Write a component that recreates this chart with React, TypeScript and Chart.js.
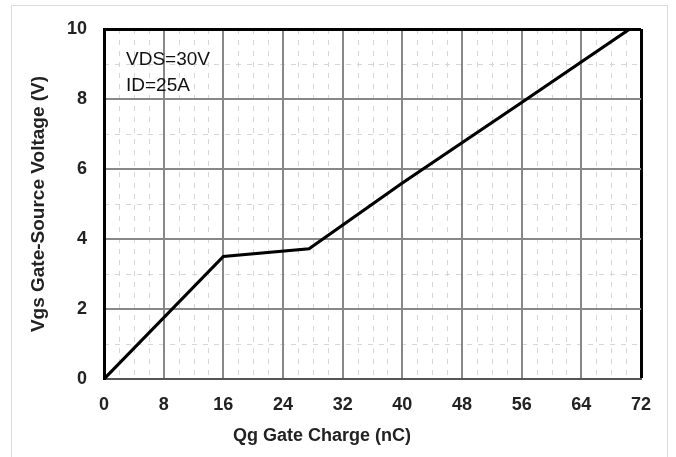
import React, { useEffect, useRef } from "react";
import { Chart, registerables } from "chart.js";

Chart.register(...registerables);

const chargeNC = [0, 16, 27.5, 40, 56, 70.5];
const gateVolts = [0, 3.5, 3.72, 5.6, 7.9, 10];
const xTickValues = [0, 8, 16, 24, 32, 40, 48, 56, 64, 72];
const yTickValues = [0, 2, 4, 6, 8, 10];
const xMinorValues = [2, 4, 6, 10, 12, 14, 18, 20, 22, 26, 28, 30, 34, 36, 38, 42, 44, 46, 50, 52, 54, 58, 60, 62, 66, 68, 70];
const yMinorValues = [1, 3, 5, 7, 9];
const annotations = ["VDS=30V", "ID=25A"];
const xTitle = "Qg Gate Charge (nC)";
const yTitle = "Vgs Gate-Source Voltage (V)";

const FONT = "'Liberation Sans', Arial, sans-serif";

export default function App() {
  const ref = useRef<HTMLCanvasElement | null>(null);

  useEffect(() => {
    document.body.style.margin = "0";
    const canvas = ref.current;
    if (!canvas) return;

    const decor = {
      id: "decor",
      beforeDraw(chart: any) {
        const { ctx } = chart;
        ctx.save();
        ctx.strokeStyle = "#dcdcdc";
        ctx.lineWidth = 1;
        ctx.strokeRect(11.5, 5.5, 656, 460);
        const xs = chart.scales.x;
        const ys = chart.scales.y;
        const a = chart.chartArea;
        ctx.strokeStyle = "#d6d6d6";
        ctx.lineWidth = 1;
        ctx.setLineDash([5, 6]);
        for (const v of xMinorValues) {
          const px = Math.round(xs.getPixelForValue(v)) + 0.5;
          ctx.beginPath();
          ctx.moveTo(px, a.top);
          ctx.lineTo(px, a.bottom);
          ctx.stroke();
        }
        for (const v of yMinorValues) {
          const py = Math.round(ys.getPixelForValue(v)) + 0.5;
          ctx.beginPath();
          ctx.moveTo(a.left, py);
          ctx.lineTo(a.right, py);
          ctx.stroke();
        }
        ctx.restore();
      },
      afterDraw(chart: any) {
        const { ctx } = chart;
        const a = chart.chartArea;
        ctx.save();
        ctx.fillStyle = "#111";
        ctx.font = `19px ${FONT}`;
        ctx.textBaseline = "middle";
        ctx.textAlign = "left";
        ctx.fillText(annotations[0], a.left + 22, a.top + 31);
        ctx.fillText(annotations[1], a.left + 22, a.top + 57);
        ctx.font = `bold 18px ${FONT}`;
        ctx.fillStyle = "#222";
        ctx.textAlign = "center";
        ctx.fillText(xTitle, 322, 436);
        ctx.restore();
      },
    };

    const chart = new Chart(canvas, {
      type: "line",
      data: {
        datasets: [
          {
            data: chargeNC.map((x, i) => ({ x, y: gateVolts[i] })),
            borderColor: "#000",
            borderWidth: 3.2,
            pointRadius: 0,
            tension: 0,
            fill: false,
          },
        ],
      },
      options: {
        animation: false,
        responsive: false,
        devicePixelRatio: 1,
        layout: { padding: { left: 0, top: 29, right: 35, bottom: 0 } },
        plugins: { legend: { display: false }, tooltip: { enabled: false } },
        scales: {
          x: {
            type: "linear",
            min: 0,
            max: 72,
            afterFit: (s: any) => {
              s.height = 78;
            },
            afterBuildTicks: (s: any) => {
              s.ticks = xTickValues.map((v) => ({ value: v }));
            },
            ticks: {
              padding: 15,
              color: "#222",
              font: { family: FONT, size: 18, weight: "bold" },
              maxRotation: 0,
              autoSkip: false,
            },
            grid: {
              drawTicks: false,
              color: (c: any) => (c.tick && c.tick.value === 72 ? "#000" : "#888"),
              lineWidth: (c: any) => (c.tick && c.tick.value === 72 ? 3 : 2),
            },
            border: { color: "#555", width: 2 },
          },
          y: {
            type: "linear",
            min: 0,
            max: 10,
            afterFit: (s: any) => {
              s.width = 104;
            },
            afterBuildTicks: (s: any) => {
              s.ticks = yTickValues.map((v) => ({ value: v }));
            },
            ticks: {
              padding: 17,
              color: "#222",
              font: { family: FONT, size: 18, weight: "bold" },
            },
            grid: {
              drawTicks: false,
              color: (c: any) => (c.tick && c.tick.value === 10 ? "#000" : "#888"),
              lineWidth: (c: any) => (c.tick && c.tick.value === 10 ? 3 : 2),
            },
            border: { color: "#000", width: 3 },
            title: {
              display: true,
              text: yTitle,
              color: "#222",
              font: { family: FONT, size: 19, weight: "bold" },
              padding: { top: 27, bottom: 0 },
            },
          },
        },
      },
      plugins: [decor],
    });

    return () => chart.destroy();
  }, []);

  return (
    <div style={{ width: 676, height: 457, overflow: "hidden", background: "#fff" }}>
      <canvas ref={ref} width={676} height={457} />
    </div>
  );
}
